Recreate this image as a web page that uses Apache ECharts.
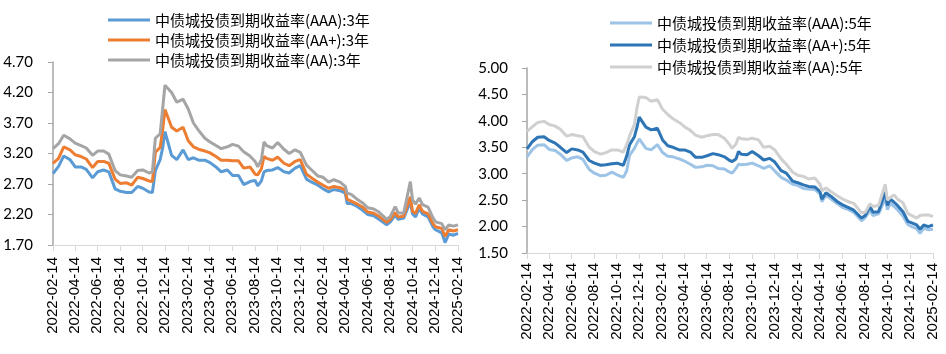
<!DOCTYPE html>
<html>
<head>
<meta charset="utf-8">
<script src="https://cdn.jsdelivr.net/npm/echarts@6/dist/echarts.min.js"></script>
<style>
  html, body { margin: 0; padding: 0; background: #fff; }
  #chart { width: 946px; height: 354px; }
</style>
</head>
<body>
<div id="chart"></div>
<script>
// sample dates (roughly half-monthly, extra points at jumps)
const dates = [
  "2022-02-14", "2022-03-01", "2022-03-15", "2022-04-01", "2022-04-15", "2022-05-01", "2022-05-15",
  "2022-06-01", "2022-06-15", "2022-07-01", "2022-07-15", "2022-08-01", "2022-08-15", "2022-09-01",
  "2022-09-15", "2022-10-01", "2022-10-15", "2022-11-01", "2022-11-10", "2022-11-18", "2022-12-01",
  "2022-12-08", "2022-12-14",
  "2023-01-01", "2023-01-15", "2023-02-01", "2023-02-15", "2023-03-01", "2023-03-15", "2023-04-01",
  "2023-04-15", "2023-05-01", "2023-05-15", "2023-06-01", "2023-06-15", "2023-07-01", "2023-07-15",
  "2023-08-01", "2023-08-15", "2023-08-22", "2023-09-01", "2023-09-08", "2023-09-15", "2023-10-01",
  "2023-10-15", "2023-11-01", "2023-11-15", "2023-12-01", "2023-12-15",
  "2024-01-01", "2024-01-15", "2024-02-01", "2024-02-15", "2024-03-01", "2024-03-15", "2024-04-01",
  "2024-04-15", "2024-04-20", "2024-05-01", "2024-05-15", "2024-06-01", "2024-06-15", "2024-07-01",
  "2024-07-15", "2024-08-05", "2024-08-15", "2024-08-28", "2024-09-05", "2024-09-20", "2024-10-08",
  "2024-10-14", "2024-10-22", "2024-11-01", "2024-11-10", "2024-11-25", "2024-12-08", "2024-12-15",
  "2025-01-01", "2025-01-10", "2025-01-20", "2025-02-01", "2025-02-14"
]

// 3年
const aaa3 = [
  2.87, 2.99, 3.16, 3.10, 2.98, 2.98, 2.94, 2.80, 2.90, 2.93, 2.90, 2.62, 2.58, 2.56, 2.56, 2.66, 2.63, 2.57, 2.56, 2.92, 3.10, 3.30, 3.56,
  3.17, 3.10, 3.26, 3.10, 3.13, 3.09, 3.09, 3.05, 2.98, 2.90, 2.93, 2.84, 2.84, 2.69, 2.74, 2.76, 2.67, 2.75, 2.90, 2.92, 2.93, 2.97, 2.90, 2.88, 2.96, 3.00,
  2.78, 2.73, 2.68, 2.62, 2.57, 2.61, 2.59, 2.55, 2.38, 2.38, 2.34, 2.27, 2.20, 2.18, 2.12, 2.03, 2.08, 2.19, 2.12, 2.14, 2.41, 2.21, 2.16, 2.30, 2.21, 2.16, 2.00, 1.95,
  1.90, 1.74, 1.88, 1.86, 1.89
]
const aap3 = [
  3.04, 3.12, 3.31, 3.26, 3.18, 3.15, 3.11, 2.97, 3.07, 3.07, 3.04, 2.78, 2.71, 2.72, 2.68, 2.81, 2.79, 2.75, 2.74, 3.22, 3.30, 3.60, 3.92,
  3.63, 3.57, 3.63, 3.41, 3.31, 3.27, 3.24, 3.21, 3.15, 3.09, 3.09, 3.08, 3.08, 2.96, 2.98, 2.86, 2.85, 2.95, 3.15, 3.12, 3.09, 3.14, 3.04, 3.00, 3.07, 3.10,
  2.86, 2.80, 2.73, 2.68, 2.63, 2.66, 2.64, 2.60, 2.45, 2.42, 2.38, 2.32, 2.24, 2.22, 2.17, 2.07, 2.12, 2.23, 2.16, 2.17, 2.49, 2.25, 2.22, 2.36, 2.25, 2.21, 2.05, 2.00,
  1.97, 1.84, 1.95, 1.93, 1.95
]
const aa3 = [
  3.28, 3.36, 3.50, 3.44, 3.37, 3.33, 3.29, 3.17, 3.24, 3.24, 3.19, 2.92, 2.85, 2.83, 2.81, 2.92, 2.93, 2.88, 2.90, 3.45, 3.52, 3.95, 4.32,
  4.20, 4.04, 4.09, 3.93, 3.70, 3.58, 3.45, 3.39, 3.33, 3.28, 3.31, 3.35, 3.32, 3.23, 3.16, 3.07, 2.98, 3.10, 3.39, 3.33, 3.29, 3.38, 3.27, 3.20, 3.26, 3.22,
  3.01, 2.93, 2.83, 2.81, 2.73, 2.77, 2.73, 2.66, 2.55, 2.53, 2.46, 2.39, 2.31, 2.29, 2.24, 2.12, 2.17, 2.33, 2.23, 2.22, 2.74, 2.44, 2.37, 2.47, 2.36, 2.32, 2.15, 2.08,
  2.05, 1.95, 2.03, 2.01, 2.03
]

// 5年
const aaa5 = [
  3.32, 3.46, 3.54, 3.55, 3.46, 3.44, 3.37, 3.25, 3.30, 3.32, 3.27, 3.08, 3.01, 2.96, 2.97, 3.03, 2.98, 2.93, 3.05, 3.35, 3.48, 3.58, 3.66,
  3.48, 3.45, 3.55, 3.40, 3.33, 3.32, 3.28, 3.24, 3.18, 3.12, 3.13, 3.16, 3.15, 3.10, 3.09, 3.03, 3.01, 3.10, 3.18, 3.17, 3.18, 3.20, 3.15, 3.10, 3.15, 3.05,
  2.93, 2.88, 2.80, 2.78, 2.72, 2.71, 2.70, 2.62, 2.47, 2.60, 2.52, 2.43, 2.36, 2.32, 2.27, 2.11, 2.17, 2.31, 2.21, 2.24, 2.53, 2.32, 2.44, 2.38, 2.32, 2.20, 2.04, 2.01,
  1.96, 1.87, 1.97, 1.94, 1.95
]
const aap5 = [
  3.47, 3.61, 3.69, 3.70, 3.63, 3.58, 3.50, 3.40, 3.47, 3.45, 3.41, 3.25, 3.20, 3.16, 3.17, 3.19, 3.20, 3.16, 3.33, 3.55, 3.70, 3.88, 4.07,
  3.88, 3.83, 3.86, 3.64, 3.53, 3.50, 3.45, 3.45, 3.41, 3.31, 3.31, 3.34, 3.38, 3.36, 3.32, 3.25, 3.23, 3.28, 3.42, 3.37, 3.36, 3.42, 3.34, 3.26, 3.29, 3.22,
  3.06, 3.01, 2.86, 2.83, 2.79, 2.76, 2.75, 2.66, 2.52, 2.64, 2.57, 2.47, 2.41, 2.36, 2.31, 2.16, 2.21, 2.38, 2.27, 2.28, 2.66, 2.40, 2.52, 2.46, 2.40, 2.28, 2.10, 2.08,
  2.03, 1.95, 2.03, 2.00, 2.03
]
const aa5 = [
  3.80, 3.89, 3.97, 3.99, 3.93, 3.90, 3.84, 3.71, 3.74, 3.72, 3.70, 3.50, 3.42, 3.37, 3.40, 3.45, 3.45, 3.41, 3.55, 3.72, 3.93, 4.25, 4.45,
  4.44, 4.37, 4.40, 4.22, 4.12, 4.04, 3.97, 3.89, 3.82, 3.73, 3.69, 3.72, 3.74, 3.74, 3.67, 3.55, 3.48, 3.56, 3.69, 3.66, 3.65, 3.67, 3.64, 3.50, 3.52, 3.45,
  3.28, 3.18, 3.03, 2.97, 2.95, 2.90, 2.92, 2.80, 2.68, 2.73, 2.66, 2.58, 2.52, 2.47, 2.44, 2.26, 2.27, 2.43, 2.38, 2.40, 2.80, 2.50, 2.55, 2.60, 2.52, 2.45, 2.25, 2.22,
  2.16, 2.21, 2.22, 2.22, 2.19
]

const names3 = ["中债城投债到期收益率(AAA):3年", "中债城投债到期收益率(AA+):3年", "中债城投债到期收益率(AA):3年"]
const names5 = ["中债城投债到期收益率(AAA):5年", "中债城投债到期收益率(AA+):5年", "中债城投债到期收益率(AA):5年"]

// daily calendar axis, like an Excel date axis
const days = []
for (let t = Date.UTC(2022, 1, 14); t <= Date.UTC(2025, 1, 14); t += 86400000) {
  days.push(new Date(t).toISOString().slice(0, 10))
}
const everyTwoMonths = (i, v) => v.slice(8) === "14" && Number(v.slice(5, 7)) % 2 === 0

const fontLatin = "Lato, 'Noto Sans CJK SC', sans-serif"
const fontCjk = "'Noto Sans CJK SC', sans-serif"

const pairs = (vals) => dates.map((d, i) => [d, vals[i]])

function xAxis(gridIndex, margin) {
  return {
    type: "category",
    gridIndex,
    data: days,
    boundaryGap: false,
    axisLine: { lineStyle: { color: "#d9d9d9", width: 1 } },
    axisTick: { interval: everyTwoMonths, length: 6, lineStyle: { color: "#d9d9d9" } },
    axisLabel: {
      interval: everyTwoMonths,
      rotate: 90,
      margin,
      color: "#000",
      fontSize: 15,
      fontFamily: "'Liberation Sans', Arial, sans-serif"
    },
    splitLine: { show: false }
  }
}

function yAxis(gridIndex, min, max, margin) {
  return {
    type: "value",
    gridIndex,
    min,
    max,
    interval: 0.5,
    axisLine: { show: true, lineStyle: { color: "#a6a6a6", width: 1.5 } },
    axisTick: { show: true, length: 5, lineStyle: { color: "#a6a6a6" } },
    axisLabel: {
      margin,
      color: "#000",
      fontSize: 15,
      fontFamily: fontLatin,
      formatter: (v) => v.toFixed(2)
    },
    splitLine: { show: false }
  }
}

function line(name, vals, color, idx) {
  return {
    name,
    type: "line",
    xAxisIndex: idx,
    yAxisIndex: idx,
    data: pairs(vals),
    showSymbol: false,
    symbol: "none",
    lineStyle: { color, width: 3 },
    itemStyle: { color }
  }
}

const legendText = { fontSize: 15, fontFamily: fontCjk, color: "#000", lineHeight: 16 }

const chart = echarts.init(document.getElementById("chart"), null, { renderer: "canvas" })
chart.setOption({
  animation: false,
  backgroundColor: "#fff",
  legend: [
    {
      data: names3,
      orient: "vertical",
      left: 108,
      top: 12,
      icon: "rect",
      itemWidth: 42,
      itemHeight: 3,
      itemGap: 4,
      padding: 0,
      textStyle: legendText
    },
    {
      data: names5,
      orient: "vertical",
      left: 610,
      top: 15,
      icon: "rect",
      itemWidth: 42,
      itemHeight: 3,
      itemGap: 6,
      padding: 0,
      textStyle: legendText
    }
  ],
  grid: [
    { left: 53, top: 62, width: 405, height: 183 },
    { left: 527, top: 68, width: 406, height: 185 }
  ],
  xAxis: [xAxis(0, 12), xAxis(1, 10)],
  yAxis: [yAxis(0, 1.7, 4.7, 20), yAxis(1, 1.5, 5.0, 19)],
  series: [
    line(names3[0], aaa3, "#5b9bd5", 0),
    line(names3[1], aap3, "#ed7d31", 0),
    line(names3[2], aa3, "#a5a5a5", 0),
    line(names5[0], aaa5, "#9dc3e6", 1),
    line(names5[1], aap5, "#2e75b6", 1),
    line(names5[2], aa5, "#d0d0d0", 1)
  ]
})
</script>
</body>
</html>
